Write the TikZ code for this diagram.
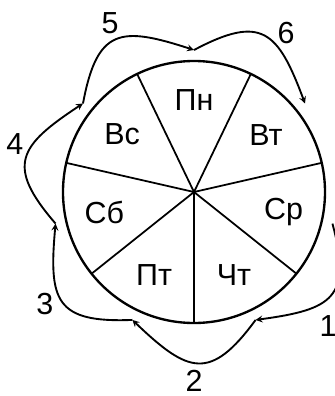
\documentclass[tikz,border=0pt]{standalone}
\usepackage{fontspec}
\setmainfont{Liberation Sans}

\begin{document}
\begin{tikzpicture}[>=stealth, font=\fontsize{26}{30}\selectfont]
	\tikzset{wheel/.style={line width=2pt}, spoke/.style={line width=1.5pt}, turn/.style={->, line width=1.6pt}, num/.style={inner sep=0pt}}
	\useasboundingbox (-5.82,-6.12) rectangle (4.23,5.76);
	\coordinate (hub) at (0,0);
	% the week wheel
	\draw[wheel] (hub) circle (3.93);
	\foreach \k in {0,...,6}
		\draw[spoke] (hub) -- (-90+\k*51.43:3.93);
	\foreach \name/\txt [count=\i from 0] in {pn/Пн, vt/Вт, cp/Ср, cht/Чт, pt/Пт, sb/Сб, vs/Вс}
		\node (\name) at (90-\i*51.43:2.76) {\txt};
	% arrows round the wheel
	\foreach \k in {0,...,6}
		\coordinate (p\k) at (-12.86-\k*51.43:4.26);
	\foreach \n/\r/\d in {1/5.7/-6.5, 2/5.66/0, 3/5.59/-1.7, 4/5.56/-2, 5/5.66/0.7, 6/5.51/-4.4} {
		\pgfmathsetmacro{\a}{-12.86-(\n-1)*51.43}
		\pgfmathsetmacro{\aout}{\a-62}
		\pgfmathsetmacro{\ain}{\a+20.57}
		\pgfmathtruncatemacro{\m}{\n-1}
		\draw[turn] (p\m) to[out=\aout, in=\ain, looseness=1.6] (p\n);
		\node[num] (num\n) at (\a-25.71+\d:\r) {\n};
	}
\end{tikzpicture}
\end{document}
